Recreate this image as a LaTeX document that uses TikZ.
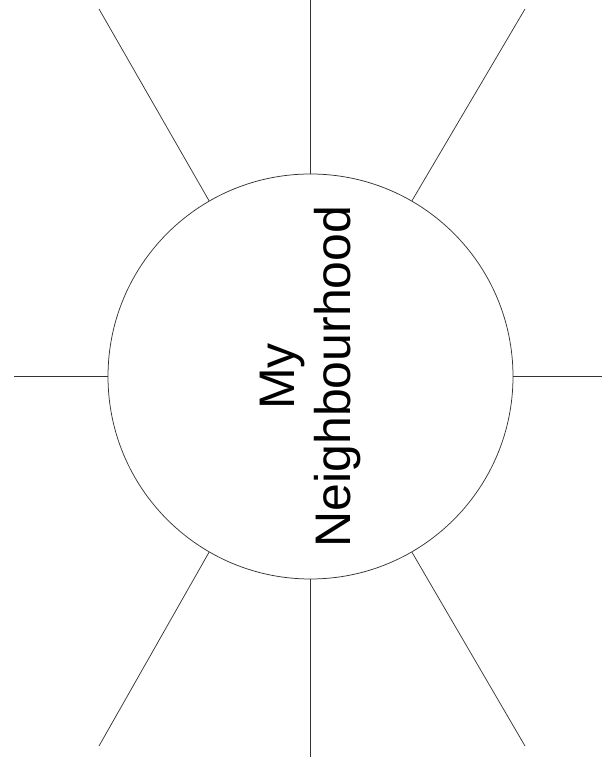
\documentclass[tikz,border=0pt]{standalone}
\usepackage{fontspec}
\setmainfont{Liberation Sans}

\newcommand*{\hubx}{310.5}
\newcommand*{\huby}{386.5}

\begin{document}
\begin{tikzpicture}
[
	x=1pt,
	y=1pt,
	spoke/.style={draw=black!80,line width=0.75pt},
	hubcircle/.style={circle,draw=black!80,line width=0.75pt,inner sep=0pt,minimum size=405pt}
]
	\useasboundingbox (0,0) rectangle (602,763);

	% centre circle and title
	\node[hubcircle] (hub) at (\hubx,\huby) {};
	\node[rotate=90,align=center,inner sep=0pt,font=\fontsize{50}{56}\selectfont] (title) at (hub.center) {My\\Neighbourhood};

	% outer ends of the spokes
	\coordinate (n) at (\hubx,763);
	\coordinate (s) at (\hubx,6);
	\coordinate (w) at (14,\huby);
	\coordinate (e) at (602,\huby);
	\coordinate (nw) at (99,754);
	\coordinate (ne) at (525,754);
	\coordinate (sw) at (99,17);
	\coordinate (se) at (525,17);

	% spokes
	\foreach \ang/\tip in {90/n,270/s,180/w,0/e,120/nw,60/ne,240/sw,300/se}
		\draw[spoke] (hub.\ang) -- (\tip);

\end{tikzpicture}
\end{document}
